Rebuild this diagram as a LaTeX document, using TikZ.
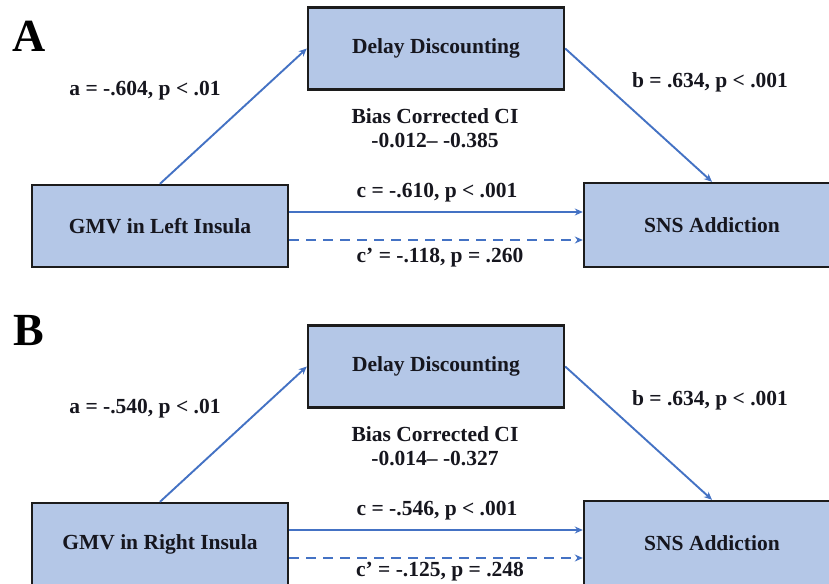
\documentclass[tikz,border=0pt]{standalone}
\usepackage{fontspec}
\setmainfont{Liberation Serif}
\usetikzlibrary{arrows.meta,calc}
\definecolor{boxfill}{RGB}{180,199,231}
\definecolor{arrowblue}{RGB}{68,114,196}
\definecolor{boxline}{RGB}{28,28,28}
\definecolor{txt}{RGB}{22,22,30}
\begin{document}
\begin{tikzpicture}[x=1pt,y=-1pt,
  varbox/.style={draw=boxline, line width=2.4pt, fill=boxfill, minimum width=256pt, minimum height=82pt, inner sep=0pt, font=\fontsize{21.5}{24}\selectfont\bfseries, text=txt},
  lab/.style={font=\fontsize{21.5}{24}\selectfont\bfseries, text=txt, inner sep=0pt, align=center},
  panellabel/.style={font=\fontsize{46}{50}\selectfont\bfseries, text=black, inner sep=0pt},
  conn/.style={draw=arrowblue, line width=1.9pt, -{Stealth[length=8pt,width=7pt]}},
  dashconn/.style={conn, dash pattern=on 10pt off 7pt},
]
\path[use as bounding box, clip] (0,0) rectangle (829,583);
\fill[white] (0,0) rectangle (829,583);

% Panel A
\node[panellabel] (pA) at (29,36) {A};
\node[varbox] (ddA) at (436,48.5) {Delay Discounting};
\node[varbox] (gmvA) at (160,226) {GMV in Left Insula};
\node[varbox, minimum height=84pt] (snsA) at (712,225) {SNS Addiction};
\coordinate (cA1) at ([yshift=14pt]gmvA.east);
\coordinate (cA2) at ([yshift=-14pt]gmvA.east);
\draw[conn] (gmvA.north) -- (ddA.west);
\draw[conn] (ddA.east) -- (snsA.north);
\draw[conn] (cA1) -- (cA1 -| snsA.west);
\draw[dashconn] (cA2) -- (cA2 -| snsA.west);
\node[lab] (aA) at (145,91) {a = -.604, p < .01};
\node[lab] (bA) at (710,82) {b = .634, p < .001};
\node[lab] (ciA) at (435,128.5) {Bias Corrected CI\\-0.012– -0.385};
\node[lab] (cA) at (437,193) {c = -.610, p < .001};
\node[lab] (cpA) at (440,258) {c’ = -.118, p = .260};

% Panel B
\node[panellabel] (pB) at (29,331) {B};
\begin{scope}[shift={(0,318)}]
\node[varbox] (ddB) at (436,48.5) {Delay Discounting};
\node[varbox] (gmvB) at (160,226) {GMV in Right Insula};
\node[varbox, minimum height=84pt] (snsB) at (712,225) {SNS Addiction};
\coordinate (cB1) at ([yshift=14pt]gmvB.east);
\coordinate (cB2) at ([yshift=-14pt]gmvB.east);
\draw[conn] (gmvB.north) -- (ddB.west);
\draw[conn] (ddB.east) -- (snsB.north);
\draw[conn] (cB1) -- (cB1 -| snsB.west);
\draw[dashconn] (cB2) -- (cB2 -| snsB.west);
\node[lab] (aB) at (145,91) {a = -.540, p < .01};
\node[lab] (bB) at (710,82) {b = .634, p < .001};
\node[lab] (ciB) at (435,128.5) {Bias Corrected CI\\-0.014– -0.327};
\node[lab] (cB) at (437,193) {c = -.546, p < .001};
\node[lab] (cpB) at (440,254) {c’ = -.125, p = .248};
\end{scope}
\end{tikzpicture}
\end{document}
